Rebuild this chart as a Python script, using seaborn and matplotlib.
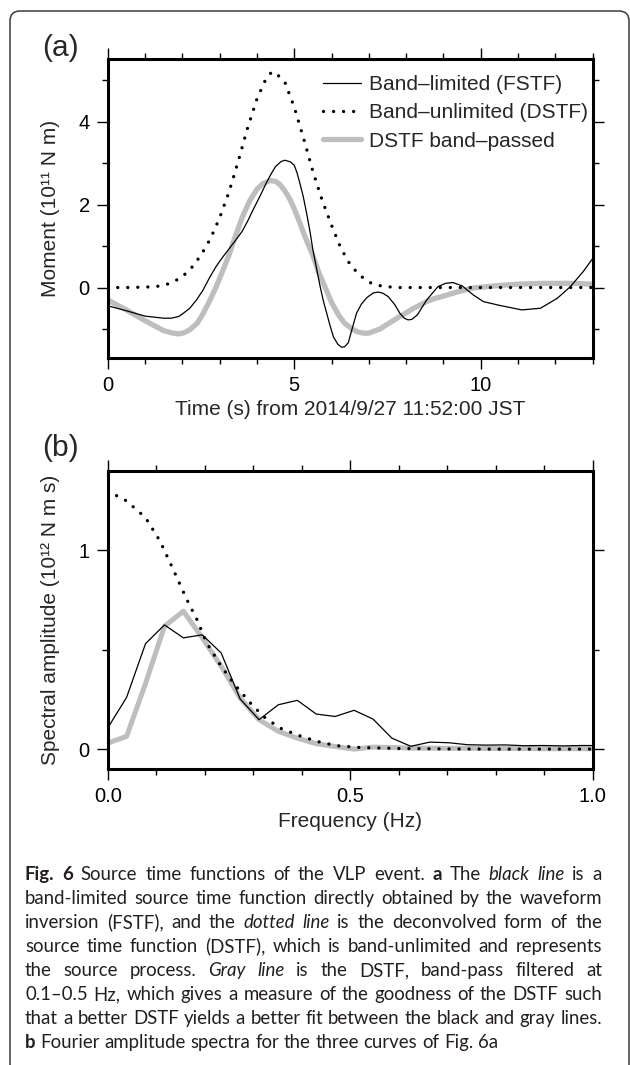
import numpy as np
import pandas as pd
import matplotlib
matplotlib.use('Agg')
import matplotlib.pyplot as plt
from matplotlib.patches import FancyBboxPatch
from matplotlib.ticker import MultipleLocator, FormatStrFormatter
import seaborn as sns

# panel (a): source time functions (time in s, moment in 1e11 N m)
t_fstf = [0, 0.5, 1.0, 1.5, 1.7, 1.9, 2.0, 2.2, 2.38, 2.55, 2.72, 2.9, 3.08, 3.25, 3.42, 3.6,
          3.75, 3.9, 4.08, 4.25, 4.38, 4.5, 4.65, 4.75, 4.9, 5.0, 5.07, 5.15, 5.24, 5.33, 5.42,
          5.5, 5.6, 5.7, 5.78, 5.87, 5.96, 6.05, 6.17, 6.27, 6.35, 6.45, 6.55, 6.67, 6.8, 6.95,
          7.12, 7.25, 7.38, 7.52, 7.7, 7.83, 7.95, 8.05, 8.15, 8.3, 8.55, 8.85, 9.05, 9.25,
          9.5, 9.8, 10.07, 10.5, 11.1, 11.6, 12.05, 12.4, 12.75, 13.0]
m_fstf = [-0.44, -0.56, -0.69, -0.74, -0.74, -0.70, -0.64, -0.50, -0.30, -0.07, 0.22, 0.50,
          0.73, 0.93, 1.13, 1.35, 1.60, 1.88, 2.20, 2.52, 2.74, 2.92, 3.04, 3.07, 3.03, 2.95,
          2.78, 2.52, 2.20, 1.80, 1.36, 0.91, 0.45, 0.0, -0.32, -0.62, -0.92, -1.19, -1.37,
          -1.44, -1.43, -1.33, -1.0, -0.62, -0.40, -0.24, -0.13, -0.11, -0.14, -0.22, -0.42,
          -0.62, -0.74, -0.78, -0.77, -0.66, -0.30, 0.02, 0.10, 0.12, 0.04, -0.18, -0.34,
          -0.43, -0.54, -0.50, -0.26, 0.02, 0.39, 0.70]

t_dstf = [0, 0.5, 1.0, 1.25, 1.5, 1.75, 2.0, 2.25, 2.5, 2.75, 3.0, 3.25, 3.5, 3.75, 4.0, 4.25,
          4.4, 4.5, 4.75, 5.0, 5.25, 5.5, 5.75, 6.0, 6.25, 6.5, 6.75, 7.0, 7.25, 7.5, 7.75, 8.0,
          9.0, 10.0, 11.0, 12.0, 13.0]
m_dstf = [0, 0, 0.01, 0.02, 0.05, 0.13, 0.26, 0.48, 0.78, 1.17, 1.68, 2.30, 3.05, 3.85, 4.55,
          5.05, 5.20, 5.18, 4.95, 4.35, 3.60, 2.80, 2.10, 1.50, 0.95, 0.55, 0.30, 0.13, 0.05,
          0.02, 0.0, 0, 0, 0, 0, 0, 0]

t_bp = [0, 0.5, 1.0, 1.5, 1.75, 1.9, 2.05, 2.2, 2.4, 2.55, 2.7, 2.9, 3.05, 3.25, 3.4, 3.6, 3.8,
        4.0, 4.15, 4.35, 4.5, 4.62, 4.75, 4.9, 5.0, 5.15, 5.3, 5.5, 5.65, 5.85, 6.0, 6.2, 6.35,
        6.55, 6.7, 6.85, 7.0, 7.12, 7.3, 7.47, 7.65, 7.83, 8.0, 8.2, 8.4, 8.55, 8.75, 8.95,
        9.4, 9.8, 10.5, 11.0, 11.6, 12.0, 12.5, 13.0]
m_bp = [-0.30, -0.54, -0.80, -1.04, -1.10, -1.12, -1.09, -1.02, -0.86, -0.64, -0.38, 0.0, 0.33,
        0.78, 1.18, 1.68, 2.08, 2.37, 2.50, 2.58, 2.56, 2.48, 2.33, 2.10, 1.90, 1.56, 1.20,
        0.77, 0.38, -0.04, -0.36, -0.68, -0.86, -1.00, -1.07, -1.10, -1.10, -1.06, -1.0,
        -0.90, -0.80, -0.70, -0.61, -0.50, -0.41, -0.34, -0.27, -0.22, -0.10, -0.01, 0.05,
        0.08, 0.10, 0.10, 0.10, 0.08]

# panel (b): Fourier amplitude spectra (Hz, 1e12 N m s)
f_spec = [0, 0.039, 0.078, 0.117, 0.156, 0.195, 0.234, 0.273, 0.312, 0.352, 0.391, 0.430,
          0.469, 0.508, 0.547, 0.586, 0.625, 0.664, 0.703, 0.742, 0.781, 0.820, 0.859, 0.898,
          0.937, 0.977, 1.016]
a_fstf = [0.106, 0.26, 0.53, 0.624, 0.559, 0.574, 0.483, 0.252, 0.148, 0.223, 0.245, 0.176,
          0.164, 0.195, 0.151, 0.055, 0.014, 0.035, 0.032, 0.022, 0.020, 0.021, 0.017, 0.018,
          0.016, 0.018, 0.018]
a_bp = [0.03, 0.064, 0.33, 0.617, 0.693, 0.559, 0.416, 0.257, 0.148, 0.089, 0.055, 0.027,
        0.013, 0.0, 0.01, 0.008, 0.005, 0.005, 0.004, 0.004, 0.003, 0.003, 0.003, 0.002,
        0.002, 0.002, 0.002]
f_dstf = [0, 0.039, 0.078, 0.108, 0.135, 0.163, 0.184, 0.204, 0.232, 0.259, 0.294, 0.321,
          0.355, 0.39, 0.431, 0.472, 0.52, 0.6, 0.7, 0.8, 0.9, 1.0]
a_dstf = [1.297, 1.247, 1.163, 1.045, 0.903, 0.752, 0.651, 0.534, 0.424, 0.332, 0.232, 0.164,
          0.106, 0.072, 0.039, 0.017, 0.008, 0.003, 0.001, 0, 0, 0]

labels = ['Band\u2013limited (FSTF)', 'Band\u2013unlimited (DSTF)', 'DSTF band\u2013passed']

caption = [
    [('Fig. 6', 'bold', 'normal'), ('Source time functions of the VLP event.', 'normal', 'normal'),
     ('a', 'bold', 'normal'), ('The', 'normal', 'normal'), ('black line', 'normal', 'italic'),
     ('is a', 'normal', 'normal')],
    [('band-limited source time function directly obtained by the waveform', 'normal', 'normal')],
    [('inversion (FSTF), and the', 'normal', 'normal'), ('dotted line', 'normal', 'italic'),
     ('is the deconvolved form of the', 'normal', 'normal')],
    [('source time function (DSTF), which is band-unlimited and represents', 'normal', 'normal')],
    [('the source process.', 'normal', 'normal'), ('Gray line', 'normal', 'italic'),
     ('is the DSTF, band-pass filtered at', 'normal', 'normal')],
    [('0.1\u20130.5 Hz, which gives a measure of the goodness of the DSTF such', 'normal', 'normal')],
    [('that a better DSTF yields a better fit between the black and gray lines.', 'normal', 'normal')],
    [('b', 'bold', 'normal'), ('Fourier amplitude spectra for the three curves of Fig. 6a', 'normal', 'normal')],
]

sns.set_theme(style='ticks')
plt.rcParams['font.family'] = ['Liberation Sans', 'DejaVu Sans']
plt.rcParams['axes.linewidth'] = 2.2
plt.rcParams['axes.edgecolor'] = 'black'

W, H = 630, 1065
fig = plt.figure(figsize=(W / 100, H / 100), dpi=100)

# background axes in pixel units for the frame, panel letters and caption
bg = fig.add_axes([0, 0, 1, 1], zorder=-1)
bg.set_xlim(0, W)
bg.set_ylim(H, 0)
bg.axis('off')
bg.add_patch(FancyBboxPatch((10, 11), 619, 1064, boxstyle='round,pad=0,rounding_size=10',
                            fill=False, ec='#3a3a3a', lw=1.1))
bg.text(42, 62, '(a)', fontsize=21.5, va='bottom', ha='left')
bg.text(42, 462, '(b)', fontsize=21.5, va='bottom', ha='left')

left, width = 107.7 / W, 485 / W
ax1 = fig.add_axes([left, 1 - 358 / H, width, 298.5 / H])
ax2 = fig.add_axes([left, 1 - 769 / H, width, 298.5 / H])

gray = '#bebebe'
dot = (0, (0.01, 3.0))

sns.lineplot(x=t_bp, y=m_bp, ax=ax1, sort=False, color=gray, lw=3.8, label=labels[2])
sns.lineplot(x=t_dstf, y=m_dstf, ax=ax1, sort=False, color='black', lw=2.4, linestyle=dot,
             dash_capstyle='round', label=labels[1])
sns.lineplot(x=t_fstf, y=m_fstf, ax=ax1, sort=False, color='black', lw=0.9, label=labels[0])

sns.lineplot(x=f_spec, y=a_bp, ax=ax2, sort=False, color=gray, lw=3.6)
sns.lineplot(x=f_dstf, y=a_dstf, ax=ax2, sort=False, color='black', lw=2.4, linestyle=dot,
             dash_capstyle='round')
sns.lineplot(x=f_spec, y=a_fstf, ax=ax2, sort=False, color='black', lw=0.9)

ax1.set_xlim(0, 13)
ax1.set_ylim(-1.7, 5.5)
ax1.xaxis.set_major_locator(MultipleLocator(5))
ax1.xaxis.set_minor_locator(MultipleLocator(1))
ax1.yaxis.set_major_locator(MultipleLocator(2))
ax1.yaxis.set_minor_locator(MultipleLocator(1))
ax1.set_xlabel('Time (s) from 2014/9/27 11:52:00 JST', fontsize=15)
ax1.set_ylabel('Moment (10\u00b9\u00b9 N m)', fontsize=15)

ax2.set_xlim(0, 1)
ax2.set_ylim(-0.1, 1.4)
ax2.xaxis.set_major_locator(MultipleLocator(0.5))
ax2.xaxis.set_minor_locator(MultipleLocator(0.1))
ax2.xaxis.set_major_formatter(FormatStrFormatter('%.1f'))
ax2.yaxis.set_major_locator(MultipleLocator(1))
ax2.yaxis.set_minor_locator(MultipleLocator(0.5))
ax2.set_xlabel('Frequency (Hz)', fontsize=15)
ax2.set_ylabel('Spectral amplitude (10\u00b9\u00b2 N m s)', fontsize=15)

for ax, xl in ((ax1, -0.142), (ax2, -0.145)):
    ax.tick_params(which='both', direction='out', top=True, right=True, color='black',
                   labelsize=14.5, pad=5, labelcolor='black')
    ax.tick_params(which='major', length=8, width=1.0)
    ax.tick_params(which='minor', length=4.5, width=1.0)
    ax.xaxis.set_label_coords(0.5, xl)
    ax.yaxis.set_label_coords(-0.098, 0.5)
    for s in ax.spines.values():
        s.set_linewidth(2.2)
        s.set_color('black')

handles, labs = ax1.get_legend_handles_labels()
order = [labs.index(l) for l in labels]
ax1.legend([handles[i] for i in order], labels, loc='upper left',
           bbox_to_anchor=(0.444, 0.948), frameon=False, fontsize=15, handlelength=1.8,
           handletextpad=0.4, labelspacing=0.45, borderaxespad=0, borderpad=0)

# justified caption
r = fig.canvas.get_renderer()
cap_font = ['Lato', 'DejaVu Sans']
x0, x1 = 25, 602
probe = bg.text(0, 0, 'that a better DSTF yields a better fit between the black and gray lines.',
                fontsize=10, family=cap_font)
cap_size = 10 * (x1 - x0) / probe.get_window_extent(r).width * 0.99
probe.remove()
sp = bg.text(0, 0, 'x x', fontsize=cap_size, family=cap_font)
sp2 = bg.text(0, 0, 'xx', fontsize=cap_size, family=cap_font)
space_w = sp.get_window_extent(r).width - sp2.get_window_extent(r).width
sp.remove()
sp2.remove()

y0, dy = 880, 24
for i, line in enumerate(caption):
    words = []
    for seg, wt, st in line:
        for w in seg.split():
            words.append((w, wt, st))
    texts = [bg.text(0, y0 + i * dy, w, fontsize=cap_size, fontweight=wt, fontstyle=st,
                     family=cap_font, ha='left', va='baseline', color='#231f20')
             for w, wt, st in words]
    widths = [t.get_window_extent(r).width for t in texts]
    if i < len(caption) - 1:
        gap = (x1 - x0 - sum(widths)) / (len(words) - 1)
    else:
        gap = space_w
    x = x0
    for t, w in zip(texts, widths):
        t.set_x(x)
        x += w + gap

fig.savefig('out.png', dpi=100)
